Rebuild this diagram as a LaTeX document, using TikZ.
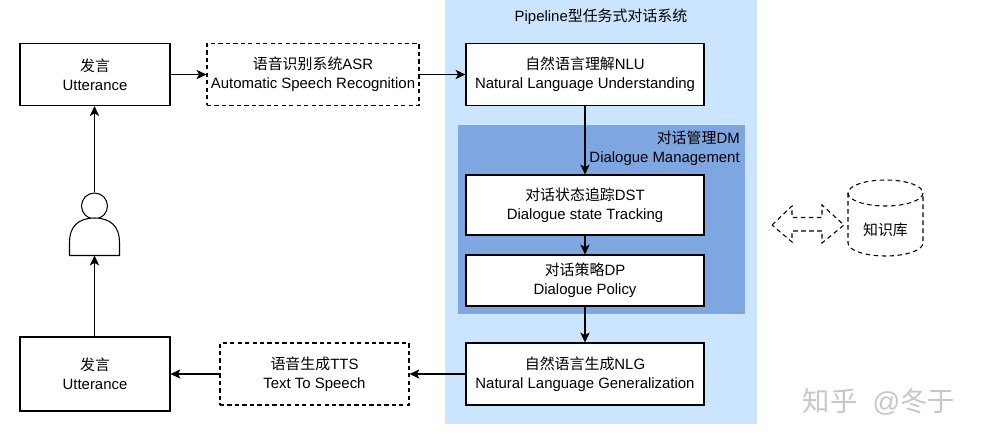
\documentclass[tikz,border=0pt]{standalone}
\usepackage{fontspec}
\setmainfont{Liberation Sans}
\newfontfamily\cjk{Noto Sans CJK SC}
\newcommand{\C}[1]{{\cjk #1}}
\usetikzlibrary{arrows.meta,shapes.geometric}
\definecolor{panelblue}{HTML}{CCE5FF}
\definecolor{dmblue}{HTML}{7EA6E0}
\tikzset{
  box/.style={draw=black,fill=white,line width=0.8pt,align=center,inner sep=0pt,font=\fontsize{11.2}{14.25}\selectfont},
  dbox/.style={box,dash pattern=on 3.2pt off 2.4pt},
  arr/.style={draw=black,line width=0.8pt,-{Stealth[length=7.5pt,width=7pt,inset=2pt]}},
  lab/.style={inner sep=0pt,align=center,font=\fontsize{11.2}{14.25}\selectfont},
  dashline/.style={draw=black,line width=0.8pt,dash pattern=on 3.4pt off 2.6pt},
  panel/.style={inner sep=0pt,draw=none},
}
\begin{document}
\begin{tikzpicture}[x=0.75pt,y=-0.75pt]
\useasboundingbox (0,0) rectangle (981,442);
\fill[white] (0,0) rectangle (981,442);
\node[panel,fill=panelblue,minimum width=234pt,minimum height=318pt] (pipe) at (601,212) {};
\node[panel,fill=dmblue,minimum width=215.25pt,minimum height=141.75pt] (dm) at (601.5,219.5) {};
\node[lab] (pipelabel) at (601,17) {Pipeline\C{型任务式对话系统}};
\node[lab,align=right,anchor=east] (dmlabel) at (740,148.5) {\C{对话管理}DM\\Dialogue Management};

\node[box,minimum width=112.5pt,minimum height=46.5pt] (utop) at (95,74.5) {\C{发言}\\Utterance};
\node[dbox,minimum width=159pt,minimum height=46.5pt] (asr) at (313,74.5) {\C{语音识别系统}ASR\\Automatic Speech Recognition};
\node[box,minimum width=178.5pt,minimum height=46.5pt] (nlu) at (585,74.5) {\C{自然语言理解}NLU\\Natural Language Understanding};
\node[box,minimum width=178.5pt,minimum height=45pt] (dst) at (585,205) {\C{对话状态追踪}DST\\Dialogue state Tracking};
\node[box,minimum width=178.5pt,minimum height=38.25pt] (dp) at (585,280.5) {\C{对话策略}DP\\Dialogue Policy};
\node[box,minimum width=178.5pt,minimum height=46.5pt] (nlg) at (585,374) {\C{自然语言生成}NLG\\Natural Language Generalization};
\node[dbox,minimum width=141.75pt,minimum height=46.5pt] (tts) at (314.5,374) {\C{语音生成}TTS\\Text To Speech};
\node[box,minimum width=112.5pt,minimum height=55.5pt] (ubot) at (95,374) {\C{发言}\\Utterance};

% person
\node[circle,draw=black,fill=white,line width=0.8pt,minimum size=19.5pt,inner sep=0pt] (head) at (94.5,206) {};
\draw[line width=0.8pt,fill=white] (69.5,255.5) -- (69.5,242) .. controls (69.5,227) and (78,218) .. (94.5,218) .. controls (111,218) and (119.5,227) .. (119.5,242) -- (119.5,255.5) -- cycle;
\coordinate (feet) at (94.5,255.5);

\draw[arr] (utop.east) -- (asr.west);
\draw[arr] (asr.east) -- (nlu.west);
\draw[arr] (nlu.south) -- (dst.north);
\draw[arr] (dst.south) -- (dp.north);
\draw[arr] (dp.south) -- (nlg.north);
\draw[arr] (nlg.west) -- (tts.east);
\draw[arr] (tts.west) -- (ubot.east);
\draw[arr] (ubot.north -| feet) -- (feet);
\draw[arr] (head.north) -- (utop.south -| head.north);

% double arrow
\draw[dashline] (772,225) -- (792,206) -- (792,217.5) -- (822,217.5) -- (822,205) -- (844,225) -- (822,243) -- (822,231) -- (792,231) -- (792,242) -- cycle;

% knowledge base
\draw[dashline] (848,193) -- (848,243) arc[start angle=180,end angle=0,x radius=37.5,y radius=13] -- (923,193);
\draw[dashline] (885.5,193) ellipse[x radius=37.5,y radius=13];
\node[lab] (kb) at (885.5,230) {\C{知识库}};

% watermark
\node[inner sep=0pt,text=black!22,font=\fontsize{20.5}{24}\selectfont] (mark) at (879,402) {\C{知乎}\ \ @\C{冬于}};
\end{tikzpicture}
\end{document}
